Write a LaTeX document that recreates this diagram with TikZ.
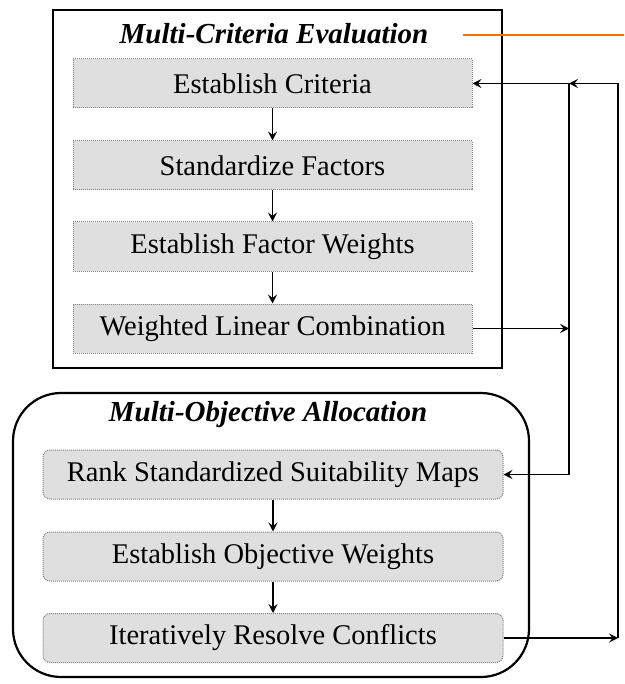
\documentclass[tikz,border=0pt]{standalone}
\usepackage{fontspec}
\setmainfont{Liberation Serif}
\usetikzlibrary{arrows.meta}

\begin{document}
\begin{tikzpicture}[x=1pt, y=-1pt,
        stepbox/.style={draw=gray, densely dotted, line width=1pt, fill=gray!25,
            minimum height=49pt, inner sep=0pt, font=\fontsize{28.5}{33}\selectfont},
        mcebox/.style={stepbox, minimum width=399pt},
        moabox/.style={stepbox, minimum width=460pt, rounded corners=7pt},
        heading/.style={font=\fontsize{29}{34}\selectfont\bfseries\itshape},
        frame/.style={draw, line width=2.2pt},
        arr/.style={line width=1.2pt, -{Stealth[length=9pt, width=9pt, inset=3.5pt]}}]
    \useasboundingbox (0,0) rectangle (624,684);
    % the two groups
    \draw[frame] (53,10) rectangle (502,368);
    \draw[frame, rounded corners=48pt] (13,393) rectangle (529,677);
    \node[heading] (mce) at (274,34) {Multi-Criteria Evaluation};
    \node[heading] (moa) at (268,415) {Multi-Objective Allocation};
    \coordinate (mark) at (463,35);
    \coordinate (markend) at (624,35);
    \draw[orange!85!red, line width=2pt] (mark) -- (markend);
    % steps
    \node[mcebox] (crit) at (272.5,83.5) {Establish Criteria};
    \node[mcebox] (stdf) at (272.5,165.5) {Standardize Factors};
    \node[mcebox] (facw) at (272.5,246.5) {Establish Factor Weights};
    \node[mcebox] (wlc) at (272.5,328.5) {Weighted Linear Combination};
    \node[moabox] (rank) at (273,474.5) {Rank Standardized Suitability Maps};
    \node[moabox] (objw) at (273,556.5) {Establish Objective Weights};
    \node[moabox] (iter) at (273,638) {Iteratively Resolve Conflicts};
    \draw[arr] (crit) -- (stdf);
    \draw[arr] (stdf) -- (facw);
    \draw[arr] (facw) -- (wlc);
    \draw[arr] (rank) -- (objw);
    \draw[arr] (objw) -- (iter);
    % feedback lines
    \coordinate (busa) at (569,83.5);
    \coordinate (busb) at (618,83.5);
    \draw[arr] (wlc.east) -- (wlc.east -| busa);
    \draw[arr] (busa) -- (crit.east);
    \draw[arr] (busa) |- (rank.east);
    \draw[arr] (iter.east) -- (iter.east -| busb);
    \draw[arr] (iter.east -| busb) |- (busa);
\end{tikzpicture}
\end{document}
